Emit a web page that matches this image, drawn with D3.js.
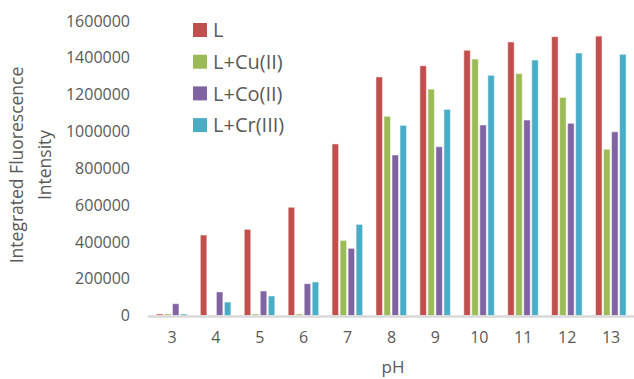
<!DOCTYPE html>
<html>
<head>
<meta charset="utf-8">
<script src="https://cdn.jsdelivr.net/npm/d3@7"></script>
<style>
  body { margin: 0; background: #fff; }
  text { font-family: "Open Sans", sans-serif; fill: #595959; }
</style>
</head>
<body>
<div id="chart"></div>
<script>
// categories and series
const phValues = ["3", "4", "5", "6", "7", "8", "9", "10", "11", "12", "13"];
const seriesNames = ["L", "L+Cu(II)", "L+Co(II)", "L+Cr(III)"];
const seriesColors = ["#C0504D", "#9BBB59", "#8064A2", "#4BACC6"];
const valuesL    = [8000, 437000, 468000, 588000, 932000, 1296000, 1357000, 1441000, 1486000, 1515000, 1518000];
const valuesCu   = [8000, 2000, 8000, 8000, 408000, 1082000, 1230000, 1393000, 1314000, 1185000, 903000];
const valuesCo   = [64000, 128000, 133000, 173000, 365000, 872000, 917000, 1035000, 1062000, 1044000, 998000];
const valuesCr   = [8000, 73000, 106000, 182000, 495000, 1033000, 1120000, 1305000, 1388000, 1426000, 1419000];
const yTicks = [0, 200000, 400000, 600000, 800000, 1000000, 1200000, 1400000, 1600000];

const allSeries = [valuesL, valuesCu, valuesCo, valuesCr];

const width = 634, height = 379;
const margin = { top: 21, right: 1, bottom: 63.5, left: 150 };

const svg = d3.select("#chart").append("svg")
    .attr("width", width)
    .attr("height", height);

const x = d3.scaleBand()
    .domain(phValues)
    .range([margin.left, width - margin.right])
    .paddingInner(0.27)
    .paddingOuter(0.135);

const xInner = d3.scaleBand()
    .domain(d3.range(seriesNames.length))
    .range([0, x.bandwidth()]);

const y = d3.scaleLinear()
    .domain([0, 1600000])
    .range([height - margin.bottom, margin.top]);

// Y axis labels (no line, no ticks)
const yAxis = svg.append("g")
    .attr("transform", `translate(130,0)`)
    .call(d3.axisLeft(y).tickValues(yTicks).tickSize(0).tickPadding(0).tickFormat(d3.format("d")));
yAxis.select(".domain").remove();
yAxis.selectAll("text")
    .attr("font-size", "16px")
    .attr("font-family", null)
    .attr("fill", "#595959");

// bars
phValues.forEach((ph, i) => {
    const g = svg.append("g").attr("transform", `translate(${x(ph)},0)`);
    allSeries.forEach((vals, s) => {
        g.append("rect")
            .attr("x", xInner(s) + 0.5)
            .attr("y", y(vals[i]))
            .attr("width", xInner.bandwidth() - 1.5)
            .attr("height", y(0) - y(vals[i]))
            .attr("fill", seriesColors[s])
            .attr("stroke", "#fff")
            .attr("stroke-opacity", 0.5)
            .attr("stroke-width", 1);
    });
});

// X axis
const xAxis = svg.append("g")
    .attr("transform", `translate(0,${y(0)})`)
    .call(d3.axisBottom(x).tickSize(0).tickPadding(16));
xAxis.select(".domain").remove();
xAxis.selectAll("text")
    .attr("font-size", "16px")
    .attr("font-family", null)
    .attr("fill", "#595959");

svg.append("line")
    .attr("x1", 148)
    .attr("x2", width)
    .attr("y1", y(0) + 1)
    .attr("y2", y(0) + 1)
    .attr("stroke", "#d9d9d9")
    .attr("stroke-width", 2.5);

// axis titles
svg.append("text")
    .attr("text-anchor", "middle")
    .attr("x", 393)
    .attr("y", 373)
    .attr("font-size", "17px")
    .text("pH");

const yTitle = svg.append("text")
    .attr("text-anchor", "middle")
    .attr("transform", "translate(0,165) rotate(-90)")
    .attr("font-size", "17.5px");
yTitle.append("tspan").attr("x", 0).attr("y", 23).text("Integrated Fluorescence");
yTitle.append("tspan").attr("x", 0).attr("y", 51).text("Intensity");

// legend
const legend = svg.selectAll(".legend")
    .data(seriesNames)
    .enter()
    .append("g")
    .attr("class", "legend")
    .attr("transform", (d, i) => `translate(193,${23 + i * 31.7})`);

legend.append("rect")
    .attr("width", 14)
    .attr("height", 14)
    .attr("fill", (d, i) => seriesColors[i]);

legend.append("text")
    .attr("x", 20)
    .attr("y", 7)
    .attr("dy", "0.36em")
    .attr("font-size", "20px")
    .text(d => d);
</script>
</body>
</html>
